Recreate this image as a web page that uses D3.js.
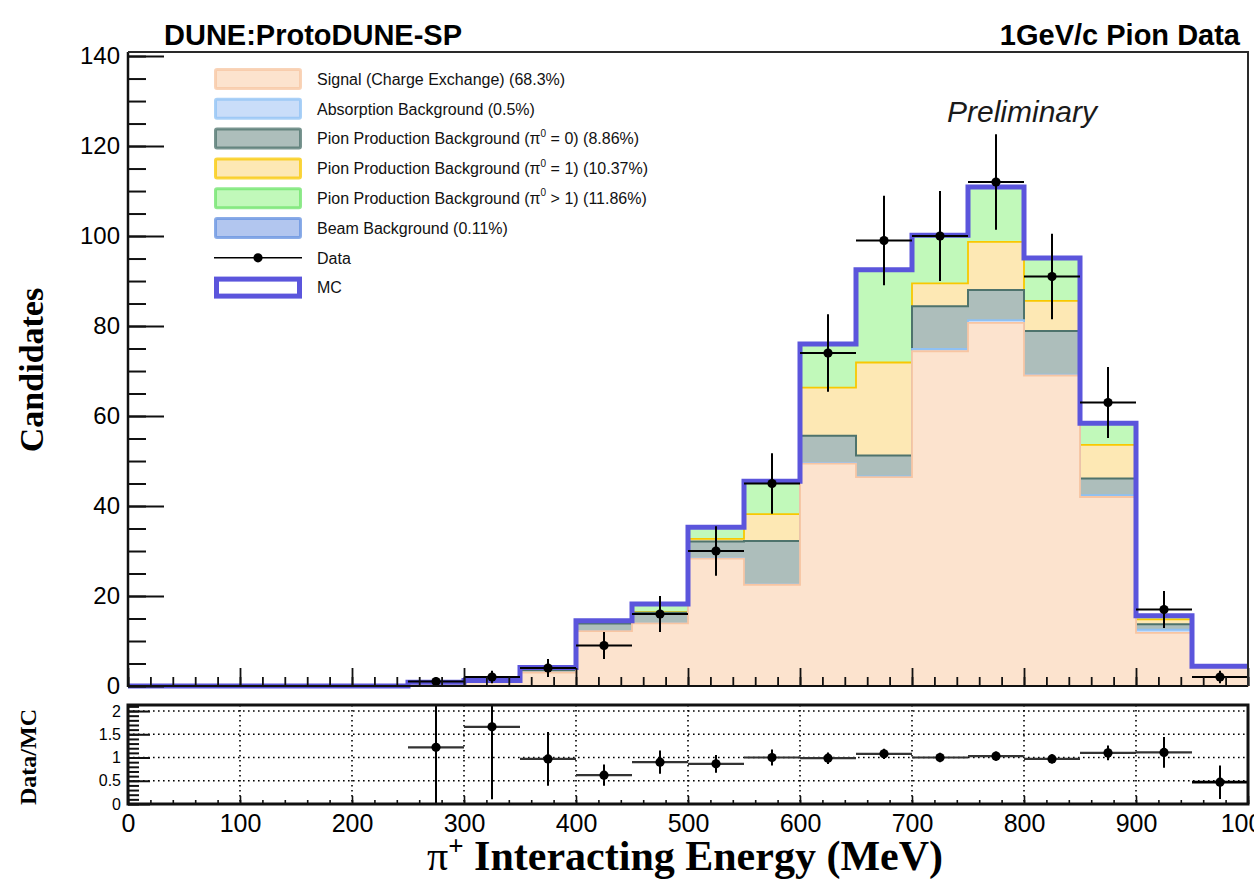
<!DOCTYPE html>
<html>
<head>
<meta charset="utf-8">
<script src="https://cdn.jsdelivr.net/npm/d3@7"></script>
<style>
  html, body { margin: 0; padding: 0; background: #fff; }
  svg { display: block; }
  text { font-family: "Liberation Sans", Arial, Helvetica, sans-serif; }
  .serif { font-family: "Liberation Serif", "Times New Roman", serif; font-weight: bold; }
</style>
</head>
<body>
<svg id="chart" width="1254" height="880"></svg>
<script>
// Bin lower edges (MeV), 50 MeV wide bins
const binLow = [0, 50, 100, 150, 200, 250, 300, 350, 400, 450, 500, 550, 600, 650, 700, 750, 800, 850, 900, 950];
const binWidth = 50;

// MC components per bin (candidates)
const signal     = [0, 0, 0, 0, 0, 0.83, 1.15, 3.0, 12.2, 13.9, 28.3, 22.5, 49.4, 46.4, 74.4, 80.7, 69.0, 42.0, 11.8, 4.4];
const absorption = [0, 0, 0, 0, 0, 0, 0, 0, 0, 0, 0.1, 0.1, 0.2, 0.2, 0.5, 0.6, 0.2, 0.4, 0.7, 0];
const pi0Zero    = [0, 0, 0, 0, 0, 0, 0.06, 0.5, 1.7, 2.4, 3.7, 9.6, 6.0, 4.6, 9.5, 6.7, 9.7, 3.7, 1.2, 0];
const pi0One     = [0, 0, 0, 0, 0, 0, 0, 0.2, 0, 0.1, 0.6, 6.0, 10.7, 20.7, 5.1, 10.7, 6.7, 7.5, 1.1, 0];
const pi0Multi   = [0, 0, 0, 0, 0, 0, 0, 0.4, 0.6, 1.8, 2.6, 7.2, 9.6, 20.5, 10.6, 12.1, 9.4, 4.7, 0.7, 0];
const beam       = [0, 0, 0, 0, 0, 0, 0, 0, 0, 0, 0, 0.1, 0.1, 0.1, 0.1, 0.1, 0.1, 0.1, 0.1, 0];

// Data counts and errors (null = empty bin)
const dataCounts = [null, null, null, null, null, 1, 2, 4, 9, 16, 30, 45, 74, 99, 100, 112, 91, 63, 17, 2];
const dataErr    = [null, null, null, null, null, 1, 1.4, 2, 3, 4, 5.5, 6.7, 8.6, 9.95, 10, 10.6, 9.5, 7.9, 4.1, 1.4];

// Data/MC ratio and its errors
const ratio    = [null, null, null, null, null, 1.22, 1.66, 0.97, 0.62, 0.90, 0.865, 1.0, 0.985, 1.08, 1.0, 1.03, 0.97, 1.1, 1.11, 0.47];
const ratioErr = [null, null, null, null, null, 1.22, 1.56, 0.58, 0.23, 0.25, 0.19, 0.17, 0.125, 0.11, 0.1, 0.1, 0.1, 0.16, 0.33, 0.36];

// Axis ticks
const xMajorTicks = [0, 100, 200, 300, 400, 500, 600, 700, 800, 900, 1000];
const yMainTicks = [0, 20, 40, 60, 80, 100, 120, 140];
const yRatioTicks = [0, 0.5, 1, 1.5, 2];

// Legend entries
const legendLabels = [
  "Signal (Charge Exchange) (68.3%)",
  "Absorption Background (0.5%)",
  ["Pion Production Background (π", "0", " = 0) (8.86%)"],
  ["Pion Production Background (π", "0", " = 1) (10.37%)"],
  ["Pion Production Background (π", "0", " > 1) (11.86%)"],
  "Beam Background (0.11%)"
];
const keys = ["signal", "absorption", "pi0Zero", "pi0One", "pi0Multi", "beam"];
const fills   = ["#fce3ce", "#c9ddf9", "#adbebb", "#fde8b4", "#c1f9ba", "#b2c6ef"];
const strokes = ["#f7c5a2", "#8fc1f4", "#4e736c", "#f8c800", "#6ee36a", "#6592e0"];
const mcColor = "#5b55dc";

const svg = d3.select("#chart");

const x = d3.scaleLinear().domain([0, 1000]).range([128, 1248]);
const yMain = d3.scaleLinear().domain([0, 140.9]).range([686, 52]);
const yRatio = d3.scaleLinear().domain([0, 2.13]).range([804, 705]);

// Build stacked table
const table = binLow.map((lo, i) => ({
  lo, signal: signal[i], absorption: absorption[i], pi0Zero: pi0Zero[i],
  pi0One: pi0One[i], pi0Multi: pi0Multi[i], beam: beam[i]
}));
const stacked = d3.stack().keys(keys)(table);

// Step points with a closing point at the right edge
function stepPoints(values) {
  const pts = binLow.map((lo, i) => [lo, values[i]]);
  pts.push([binLow[binLow.length - 1] + binWidth, values[values.length - 1]]);
  return pts;
}

const area = d3.area().curve(d3.curveStepAfter)
  .x(d => x(d[0])).y0(yMain(0)).y1(d => yMain(d[1]));

// Cumulative histograms, drawn from the largest down so lower layers sit on top
const gStack = svg.append("g");
for (let k = keys.length - 1; k >= 0; k--) {
  const cum = stacked[k].map(d => d[1]);
  gStack.append("path")
    .attr("d", area(stepPoints(cum)))
    .attr("fill", fills[k])
    .attr("stroke", strokes[k])
    .attr("stroke-width", k === 2 ? 2 : 1.8);
}

// MC total outline
const totals = stacked[keys.length - 1].map(d => d[1]);
const line = d3.line().curve(d3.curveStepAfter).x(d => x(d[0])).y(d => yMain(d[1]));
svg.append("path")
  .attr("d", line(stepPoints(totals)))
  .attr("fill", "none")
  .attr("stroke", mcColor)
  .attr("stroke-width", 5)
  .attr("stroke-linejoin", "miter");

// Data points with error bars
const gData = svg.append("g");
binLow.forEach((lo, i) => {
  if (dataCounts[i] === null) return;
  const cx = x(lo + binWidth / 2);
  gData.append("line")
    .attr("x1", x(lo)).attr("x2", x(lo + binWidth))
    .attr("y1", yMain(dataCounts[i])).attr("y2", yMain(dataCounts[i]))
    .attr("stroke", "#000").attr("stroke-width", 2);
  gData.append("line")
    .attr("x1", cx).attr("x2", cx)
    .attr("y1", yMain(Math.max(0, dataCounts[i] - dataErr[i])))
    .attr("y2", yMain(dataCounts[i] + dataErr[i]))
    .attr("stroke", "#000").attr("stroke-width", 2);
  gData.append("circle")
    .attr("cx", cx).attr("cy", yMain(dataCounts[i])).attr("r", 4.6)
    .attr("fill", "#000");
});

// Axis helpers: ticks point inward, minor and major ticks in separate groups
function minorValues(lo, hi, step) {
  const out = [];
  for (let v = lo; v <= hi + 1e-9; v += step) out.push(+v.toFixed(4));
  return out;
}
const axisFont = "Liberation Sans, Arial, sans-serif";

function styleAxis(g, width, fontSize) {
  g.selectAll("line").attr("stroke", "#111").attr("stroke-width", width);
  g.selectAll(".domain").remove();
  if (fontSize) g.selectAll("text").attr("font-size", fontSize).attr("font-family", axisFont).attr("fill", "#000");
}

// Main panel x axis (no labels)
const mainX = `translate(0,${yMain(0)})`;
styleAxis(svg.append("g").attr("transform", mainX)
  .call(d3.axisBottom(x).tickValues(minorValues(0, 1000, 20)).tickSize(-9).tickFormat("")), 1.8);
styleAxis(svg.append("g").attr("transform", mainX)
  .call(d3.axisBottom(x).tickValues(xMajorTicks).tickSize(-18).tickFormat("")), 1.8);

// Main panel y axis
const leftX = `translate(${x(0)},0)`;
styleAxis(svg.append("g").attr("transform", leftX)
  .call(d3.axisLeft(yMain).tickValues(minorValues(0, 140, 5)).tickSize(-18).tickFormat("")), 2);
styleAxis(svg.append("g").attr("transform", leftX)
  .call(d3.axisLeft(yMain).tickValues(yMainTicks).tickSize(-36).tickPadding(8).tickFormat(d3.format("d"))), 2, 24);

// Main panel frame
svg.append("line").attr("x1", x(0)).attr("x2", x(1000)).attr("y1", yMain(0)).attr("y2", yMain(0))
  .attr("stroke", "#111").attr("stroke-width", 2.2);
svg.append("line").attr("x1", x(0)).attr("x2", x(0)).attr("y1", yMain(0) + 1).attr("y2", yMain.range()[1])
  .attr("stroke", "#111").attr("stroke-width", 2.5);
svg.append("path")
  .attr("d", `M${x(0)},${yMain.range()[1]}H${x(1000)}V${yMain(0)}`)
  .attr("fill", "none").attr("stroke", "#2a2a2a").attr("stroke-width", 2);

// Ratio panel grid
const gGrid = svg.append("g")
  .attr("stroke", "#000").attr("stroke-width", 1.6).attr("stroke-dasharray", "1.6,3.4");
[0.5, 1, 1.5, 2].forEach(v => {
  gGrid.append("line").attr("x1", x(0)).attr("x2", x(1000))
    .attr("y1", yRatio(v)).attr("y2", yRatio(v));
});
xMajorTicks.slice(1, -1).forEach(v => {
  gGrid.append("line").attr("x1", x(v)).attr("x2", x(v))
    .attr("y1", yRatio.range()[1]).attr("y2", yRatio(0));
});

// Ratio points, clipped to the panel
svg.append("clipPath").attr("id", "ratioClip").append("rect")
  .attr("x", x(0)).attr("y", yRatio.range()[1])
  .attr("width", x(1000) - x(0)).attr("height", yRatio(0) - yRatio.range()[1]);
const gRatio = svg.append("g").attr("clip-path", "url(#ratioClip)");
binLow.forEach((lo, i) => {
  if (ratio[i] === null) return;
  const cx = x(lo + binWidth / 2);
  gRatio.append("line")
    .attr("x1", x(lo)).attr("x2", x(lo + binWidth))
    .attr("y1", yRatio(ratio[i])).attr("y2", yRatio(ratio[i]))
    .attr("stroke", i === 19 ? "#000" : "#333").attr("stroke-width", i === 19 ? 2.6 : 2.2);
  gRatio.append("line")
    .attr("x1", cx).attr("x2", cx)
    .attr("y1", yRatio(Math.max(0, ratio[i] - ratioErr[i])))
    .attr("y2", yRatio(ratio[i] + ratioErr[i]))
    .attr("stroke", "#000").attr("stroke-width", 2);
  gRatio.append("circle")
    .attr("cx", cx).attr("cy", yRatio(ratio[i])).attr("r", 4.6)
    .attr("fill", "#000");
});

// Ratio x axis with labels
const ratioX = `translate(0,${yRatio(0)})`;
styleAxis(svg.append("g").attr("transform", ratioX)
  .call(d3.axisBottom(x).tickValues(minorValues(0, 1000, 20)).tickSize(-4).tickFormat("")), 1.6);
styleAxis(svg.append("g").attr("transform", ratioX)
  .call(d3.axisBottom(x).tickValues(xMajorTicks).tickSize(-8).tickPadding(10).tickFormat(d3.format("d"))), 1.6, 25);

// Ratio y axis
styleAxis(svg.append("g").attr("transform", leftX)
  .call(d3.axisLeft(yRatio).tickValues(minorValues(0, 2.1, 0.1)).tickSize(-11).tickFormat("")), 2);
styleAxis(svg.append("g").attr("transform", leftX)
  .call(d3.axisLeft(yRatio).tickValues(yRatioTicks).tickSize(-22).tickPadding(7).tickFormat(d => String(d))), 2, 16);

// Ratio frame
svg.append("rect")
  .attr("x", x(0)).attr("y", yRatio.range()[1])
  .attr("width", x(1000) - x(0)).attr("height", yRatio(0) - yRatio.range()[1])
  .attr("fill", "none").attr("stroke", "#111").attr("stroke-width", 3);

// Legend
const gLeg = svg.append("g");
const legX = 214, legW = 88, legH = 22, legTextX = 317, legY0 = 79, legStep = 29.8;
legendLabels.forEach((lab, i) => {
  const cy = legY0 + i * legStep;
  gLeg.append("rect")
    .attr("x", legX + 1.5).attr("y", cy - legH / 2 + 1.5)
    .attr("width", legW - 3).attr("height", legH - 3)
    .attr("rx", 1.5)
    .attr("fill", fills[i])
    .attr("stroke", strokes[i]).attr("stroke-opacity", 0.75).attr("stroke-width", 3);
  const t = gLeg.append("text").attr("x", legTextX).attr("y", cy)
    .attr("dy", "0.36em").attr("font-size", 16).attr("fill", "#111");
  if (Array.isArray(lab)) {
    t.append("tspan").text(lab[0]);
    t.append("tspan").attr("font-size", 10).attr("dy", "-0.75em").text(lab[1]);
    t.append("tspan").attr("dy", "0.47em").text(lab[2]);
  } else {
    t.text(lab);
  }
});
// Data entry
const dataY = legY0 + 6 * legStep;
gLeg.append("line").attr("x1", legX).attr("x2", legX + legW)
  .attr("y1", dataY).attr("y2", dataY).attr("stroke", "#000").attr("stroke-width", 1.6);
gLeg.append("circle").attr("cx", legX + legW / 2).attr("cy", dataY).attr("r", 4.6).attr("fill", "#000");
gLeg.append("text").attr("x", legTextX).attr("y", dataY).attr("dy", "0.36em")
  .attr("font-size", 16).attr("fill", "#111").text("Data");
// MC entry
const mcY = legY0 + 7 * legStep;
gLeg.append("rect")
  .attr("x", legX + 2.5).attr("y", mcY - legH / 2 + 2.5)
  .attr("width", legW - 5).attr("height", legH - 5)
  .attr("fill", "#fff").attr("stroke", mcColor).attr("stroke-width", 5);
gLeg.append("text").attr("x", legTextX).attr("y", mcY).attr("dy", "0.36em")
  .attr("font-size", 16).attr("fill", "#111").text("MC");

// Titles
svg.append("text").attr("x", 164).attr("y", 45)
  .attr("font-size", 29).attr("font-weight", "bold").attr("fill", "#000")
  .text("DUNE:ProtoDUNE-SP");
svg.append("text").attr("x", 1240).attr("y", 45).attr("text-anchor", "end")
  .attr("font-size", 29).attr("font-weight", "bold").attr("fill", "#000")
  .text("1GeV/c Pion Data");
svg.append("text").attr("x", 947).attr("y", 122)
  .attr("font-size", 30).attr("font-style", "italic").attr("fill", "#1a1a1a")
  .text("Preliminary");

// Axis titles
svg.append("text").attr("class", "serif")
  .attr("transform", "translate(43,370) rotate(-90)")
  .attr("text-anchor", "middle").attr("font-size", 34).attr("fill", "#000")
  .text("Candidates");
svg.append("text").attr("class", "serif")
  .attr("transform", "translate(36,757) rotate(-90)")
  .attr("text-anchor", "middle").attr("font-size", 24).attr("fill", "#000")
  .text("Data/MC");

const xt = svg.append("text").attr("class", "serif")
  .attr("x", 685).attr("y", 870).attr("text-anchor", "middle")
  .attr("font-size", 42).attr("fill", "#000");
xt.append("tspan").attr("font-weight", "normal").text("π");
xt.append("tspan").attr("font-size", 27).attr("dy", "-0.55em").text("+");
xt.append("tspan").attr("dy", "0.35em").text(" Interacting Energy (MeV)");
</script>
</body>
</html>
